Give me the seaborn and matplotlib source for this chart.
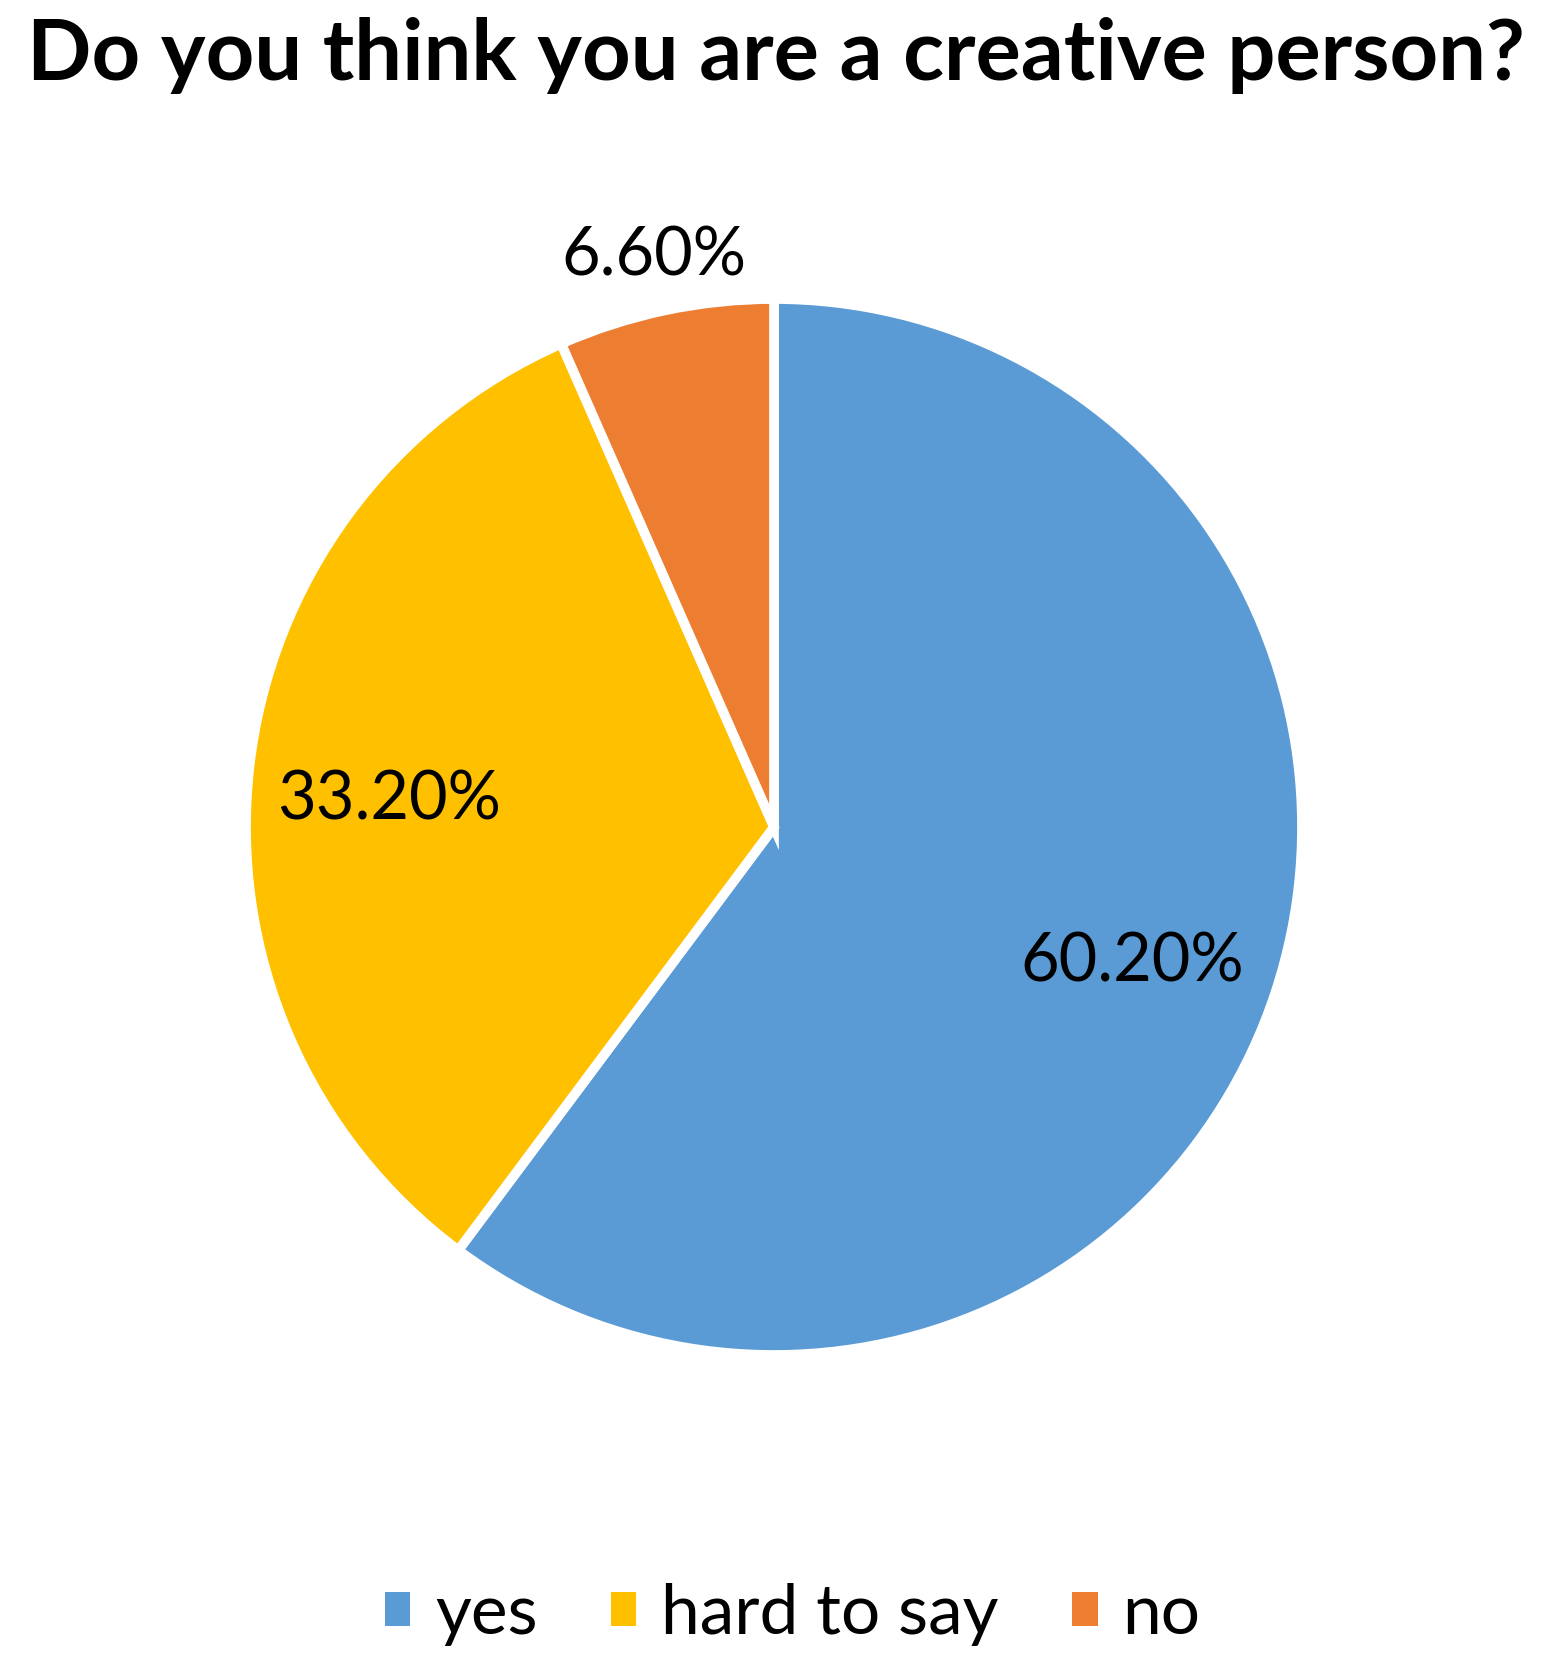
import matplotlib
matplotlib.use("Agg")
import matplotlib.pyplot as plt
import seaborn as sns
import numpy as np
from matplotlib.patches import Patch

sns.set_theme(style="white")
plt.rcParams['font.family'] = ['Lato', 'DejaVu Sans']

categories = ["yes", "hard to say", "no"]
values = [60.2, 33.2, 6.6]
labels = ["60.20%", "33.20%", "6.60%"]
colors = ["#5B9BD5", "#FFC000", "#ED7D31"]

W, H = 1551, 1662
fig = plt.figure(figsize=(W / 100, H / 100), dpi=100)
cx, cy, R = 774, 827, 528
ax = fig.add_axes([(cx - R) / W, (H - cy - R) / H, 2 * R / W, 2 * R / H])

wedges, texts = ax.pie(values, colors=colors, startangle=90, counterclock=False,
                       wedgeprops=dict(edgecolor="white", linewidth=7))
ax.set_xlim(-1, 1)
ax.set_ylim(-1, 1)
ax.set_aspect("equal")

angles = []
start = 90
total = sum(values)
for v in values:
    sweep = v / total * 360
    angles.append(start - sweep / 2)
    start -= sweep
# label placement (best-fit style): radius and angle shift per label
radii = [0.725, 0.73, 1.105]
shifts = [-2.4, 2.5, 0.0]
for lab, a, r, s in zip(labels, angles, radii, shifts):
    t = np.radians(a + s)
    ax.text(r * np.cos(t), r * np.sin(t), lab,
            ha="center", va="center", fontsize=48, color="black", clip_on=False)

fig.suptitle("Do you think you are a creative person?", fontsize=61,
             fontweight="bold", color="black", y=0.99)

handles = [Patch(facecolor=c, edgecolor="none") for c in colors]
fig.legend(handles, categories, loc="lower center", ncol=3, frameon=False,
           fontsize=50, bbox_to_anchor=(0.511, -0.028), handlelength=0.37,
           handleheight=0.37, columnspacing=1.05, handletextpad=0.36,
           labelcolor="black")

fig.savefig("out.png", dpi=100)
